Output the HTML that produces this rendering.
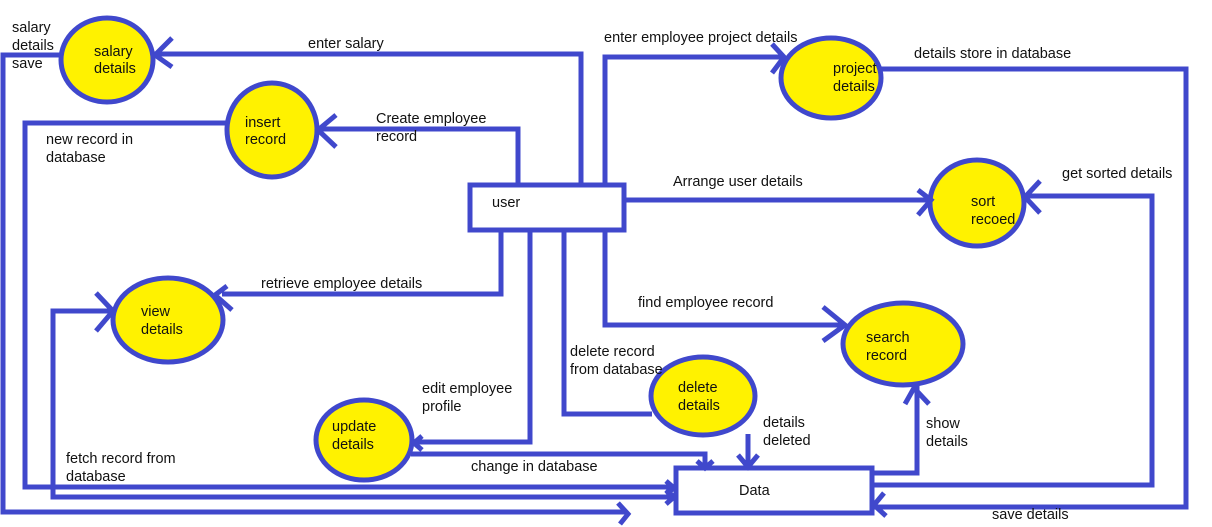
<!DOCTYPE html>
<html><head><meta charset="utf-8"><style>
html,body{margin:0;padding:0;background:#fff;}
svg{display:block;}
text{font-family:"Liberation Sans",sans-serif;font-size:14.5px;fill:#111;}
</style></head><body>
<svg width="1212" height="527" viewBox="0 0 1212 527" xmlns="http://www.w3.org/2000/svg">
<g fill="none" stroke="#4048cc" stroke-width="5" stroke-linejoin="miter">
<g fill="#fff200">
<ellipse cx="107" cy="60" rx="46" ry="42"/>
<ellipse cx="272" cy="130" rx="45" ry="47"/>
<ellipse cx="168" cy="320" rx="55" ry="42"/>
<ellipse cx="364" cy="440" rx="48" ry="40"/>
<ellipse cx="703" cy="396" rx="52" ry="39"/>
<ellipse cx="903" cy="344" rx="60" ry="41"/>
<ellipse cx="831" cy="78" rx="50" ry="40"/>
<ellipse cx="977" cy="203" rx="47" ry="43"/>
</g>
<rect x="470" y="185" width="154" height="45"/>
<rect x="676" y="468" width="196" height="45"/>
<polyline points="154,54 581,54 581,185"/>
<polyline points="172,38 155,55 172,67"/>
<polyline points="61,55 3,55 3,512 626,512"/>
<polyline points="618,503 628,514 620,524"/>
<polyline points="316,129 518,129 518,185"/>
<polyline points="336,115 318,130 336,147"/>
<polyline points="227,123 25,123 25,487 674,487"/>
<polyline points="666,481 674,488 666,494"/>
<polyline points="501,230 501,294 222,294"/>
<polyline points="227,286 215,295 232,310"/>
<polyline points="113,311 53,311 53,497 674,497"/>
<polyline points="96,293 113,311 96,331"/>
<polyline points="666,490 674,497 666,504"/>
<polyline points="530,230 530,442 413,442"/>
<polyline points="422,436 414,443 422,450"/>
<polyline points="411,454 705,454 705,467"/>
<polyline points="697,461 705,468 713,461"/>
<polyline points="564,230 564,414 652,414"/>
<polyline points="748,434 748,467"/>
<polyline points="738,455 748,467 758,455"/>
<polyline points="605,230 605,325 845,325"/>
<polyline points="823,307 845,325 823,341"/>
<polyline points="605,185 605,57 783,57"/>
<polyline points="772,44 784,57 772,73"/>
<polyline points="624,200 928,200"/>
<polyline points="918,190 931,200 918,215"/>
<polyline points="872,473 917,473 917,386"/>
<polyline points="905,404 914,388 929,404"/>
<polyline points="872,485 1152,485 1152,196 1024,196"/>
<polyline points="1040,181 1025,197 1040,213"/>
<polyline points="872,507 1186,507 1186,69 880,69"/>
<polyline points="884,493 874,505 886,516"/>
</g>
<text x="94" y="56">salary</text>
<text x="94" y="73">details</text>
<text x="12" y="32">salary</text>
<text x="12" y="50">details</text>
<text x="12" y="68">save</text>
<text x="308" y="48">enter salary</text>
<text x="245" y="127">insert</text>
<text x="245" y="144">record</text>
<text x="376" y="123">Create employee</text>
<text x="376" y="141">record</text>
<text x="46" y="144">new record in</text>
<text x="46" y="162">database</text>
<text x="492" y="207">user</text>
<text x="141" y="316">view</text>
<text x="141" y="334">details</text>
<text x="261" y="288">retrieve employee details</text>
<text x="332" y="431">update</text>
<text x="332" y="449">details</text>
<text x="422" y="393">edit employee</text>
<text x="422" y="411">profile</text>
<text x="471" y="471">change in database</text>
<text x="66" y="463">fetch record from</text>
<text x="66" y="481">database</text>
<text x="678" y="392">delete</text>
<text x="678" y="410">details</text>
<text x="570" y="356">delete record</text>
<text x="570" y="374">from database</text>
<text x="763" y="427">details</text>
<text x="763" y="445">deleted</text>
<text x="866" y="342">search</text>
<text x="866" y="360">record</text>
<text x="638" y="307">find employee record</text>
<text x="926" y="428">show</text>
<text x="926" y="446">details</text>
<text x="739" y="495">Data</text>
<text x="992" y="519">save details</text>
<text x="833" y="73">project</text>
<text x="833" y="91">details</text>
<text x="604" y="42">enter employee project details</text>
<text x="914" y="58">details store in database</text>
<text x="673" y="186">Arrange user details</text>
<text x="971" y="206">sort</text>
<text x="971" y="224">recoed</text>
<text x="1062" y="178">get sorted details</text>
</svg>
</body></html>
